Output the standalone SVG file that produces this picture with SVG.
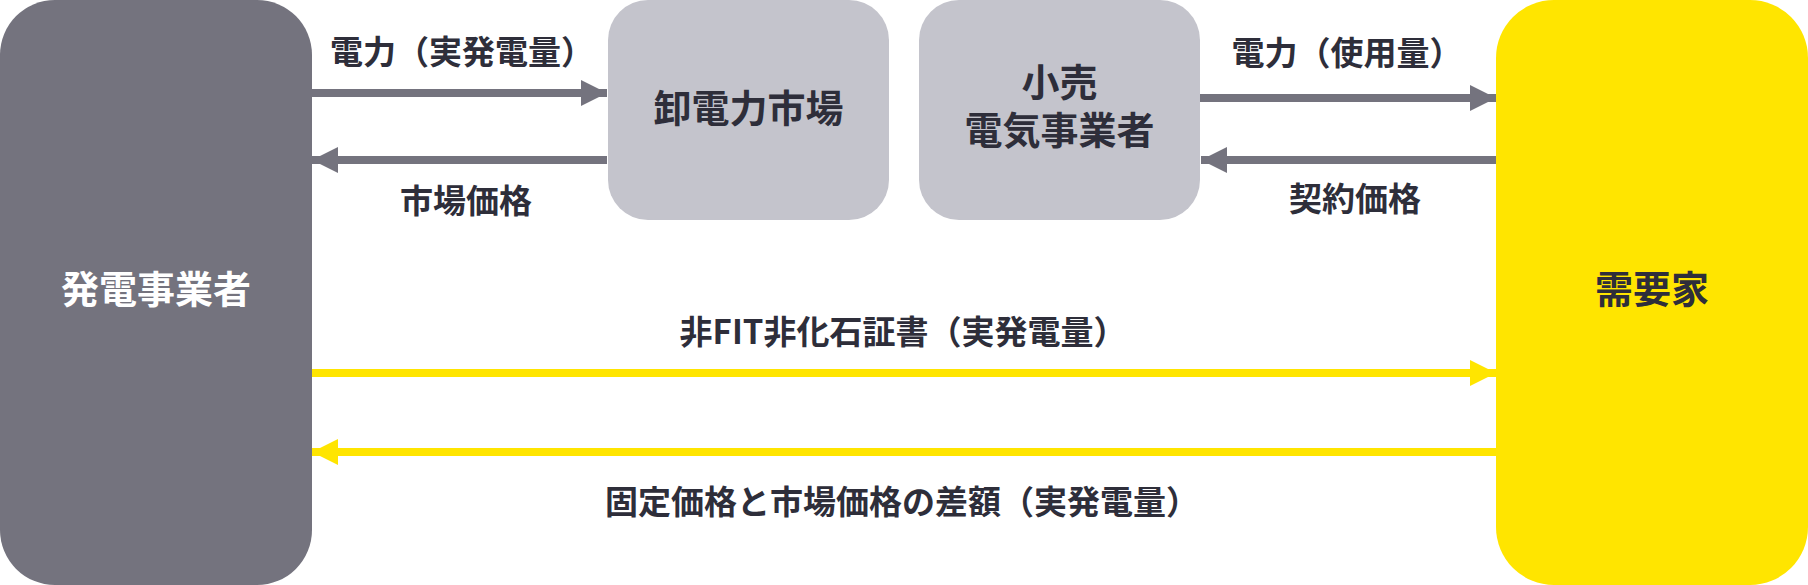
<svg xmlns="http://www.w3.org/2000/svg" width="1808" height="585" viewBox="0 0 1808 585">
<defs>
<style>
.t{font-family:"Noto Sans CJK JP","Noto Sans",sans-serif;font-weight:700;text-anchor:middle}
.lbl{font-size:33px;fill:#2e2e3a}
.nd{font-size:38px;fill:#2e2e3a}
.g{stroke:#74737e;stroke-width:8;fill:none}
.y{stroke:#ffe500;stroke-width:8;fill:none}
</style>
<marker id="ag" viewBox="0 0 26 26" refX="26" refY="13" markerWidth="26" markerHeight="26" markerUnits="userSpaceOnUse" orient="auto-start-reverse"><path d="M0,0 L26,13 L0,26 Z" fill="#74737e"/></marker>
<marker id="ay" viewBox="0 0 26 26" refX="26" refY="13" markerWidth="26" markerHeight="26" markerUnits="userSpaceOnUse" orient="auto-start-reverse"><path d="M0,0 L26,13 L0,26 Z" fill="#ffe500"/></marker>
</defs>
<rect width="1808" height="585" fill="#ffffff"/>
<g id="producer">
<rect x="0" y="0" width="312" height="585" rx="55" ry="55" fill="#74737e"/>
<text class="t" x="156" y="303" font-size="38" fill="#ffffff">発電事業者</text>
</g>
<g id="wholesale">
<rect x="608" y="0" width="281" height="220" rx="40" ry="40" fill="#c4c4cc"/>
<text class="t nd" x="748.5" y="121.5">卸電力市場</text>
</g>
<g id="retail">
<rect x="919" y="0" width="281" height="220" rx="40" ry="40" fill="#c4c4cc"/>
<text class="t nd" x="1059.5" y="96"><tspan x="1059.5" y="96">小売</tspan><tspan x="1059.5" y="143.5">電気事業者</tspan></text>
</g>
<g id="consumer">
<rect x="1496" y="0" width="312" height="585" rx="58" ry="58" fill="#ffe500"/>
<text class="t nd" x="1652" y="303">需要家</text>
</g>
<g id="connectors">
<line class="g" x1="312" y1="93" x2="607" y2="93" marker-end="url(#ag)"/>
<line class="g" x1="607" y1="160" x2="312" y2="160" marker-end="url(#ag)"/>
<line class="g" x1="1200" y1="98" x2="1496" y2="98" marker-end="url(#ag)"/>
<line class="g" x1="1496" y1="160" x2="1201" y2="160" marker-end="url(#ag)"/>
<line class="y" x1="312" y1="373" x2="1496" y2="373" marker-end="url(#ay)"/>
<line class="y" x1="1496" y1="452" x2="312" y2="452" marker-end="url(#ay)"/>
</g>
<g id="labels">
<text class="t lbl" x="462" y="63.5">電力（実発電量）</text>
<text class="t lbl" x="466" y="212.5">市場価格</text>
<text class="t lbl" x="1347" y="64.5">電力（使用量）</text>
<text class="t lbl" x="1355" y="210.5">契約価格</text>
<text class="t lbl" x="903" y="344">非FIT非化石証書（実発電量）</text>
<text class="t lbl" x="902" y="514">固定価格と市場価格の差額（実発電量）</text>
</g>
</svg>
